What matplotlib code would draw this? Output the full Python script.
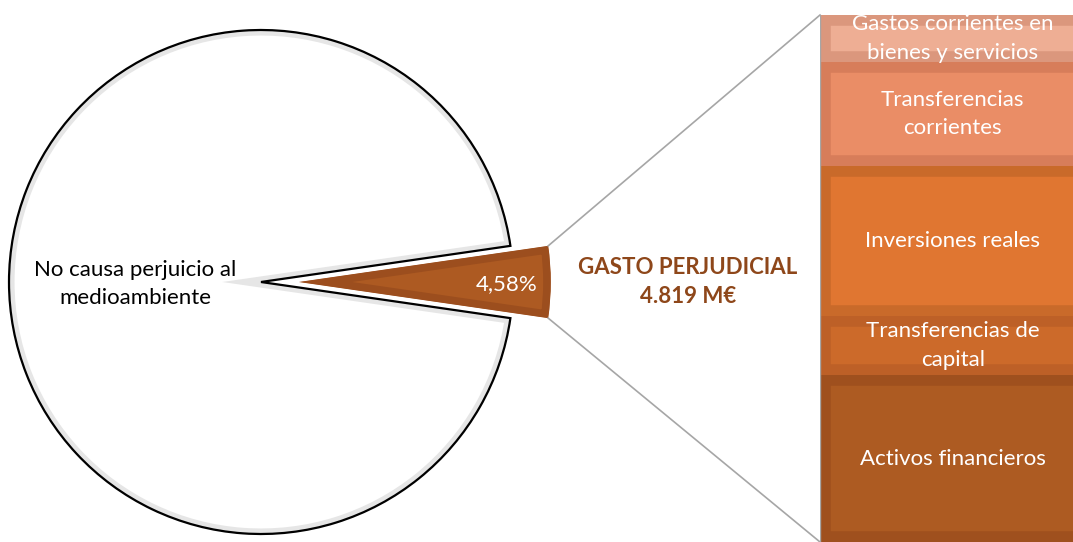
import matplotlib
matplotlib.use("Agg")
import matplotlib.pyplot as plt
from matplotlib.patches import Wedge
import numpy as np

plt.rcParams['font.family'] = ['Lato', 'DejaVu Sans']

# pie: share of spending
pie_labels = ["No causa perjuicio al\nmedioambiente", "GASTO PERJUDICIAL"]
pie_values = [95.42, 4.58]

# breakdown of the harmful spending (M€), top to bottom
bar_labels = ["Gastos corrientes en\nbienes y servicios",
              "Transferencias\ncorrientes",
              "Inversiones reales",
              "Transferencias de\ncapital",
              "Activos financieros"]
bar_values = [430, 951, 1372, 540, 1526]
total_text = "GASTO PERJUDICIAL\n4.819 M€"

bar_face = ["#EEAE94", "#EA8D66", "#E07631", "#CC6A2A", "#AD5B22"]
bar_edge = ["#DB977D", "#D77D5A", "#C96A2A", "#BD6027", "#9F501E"]

W, H = 1073, 542
R = 252
FS = 16
fig = plt.figure(figsize=(W / 100, H / 100), dpi=100)
ax = fig.add_axes([0, 0, 1, 1])

half = 360 * pie_values[1] / 100 / 2
wedges, _ = ax.pie(pie_values, center=(261, H - 282), radius=R,
                   startangle=half, explode=[0, 0.15 * R], frame=True,
                   colors=["white", "#AD5A22"])
# bevel-ish inner bands, clipped so only the inside half shows
wedges[0].set_edgecolor("#E6E6E6")
wedges[0].set_linewidth(8)
wedges[1].set_edgecolor("#9C4E1E")
wedges[1].set_linewidth(11)
for w in wedges:
    w.set_clip_on(True)
    w.set_clip_path(w)
big = wedges[0]
ax.add_patch(Wedge(big.center, big.r, big.theta1, big.theta2,
                   fill=False, edgecolor="black", lw=1.6, joinstyle="miter"))

ax.set_xlim(0, W)
ax.set_ylim(0, H)
ax.set_aspect("equal")
ax.axis("off")

ax.text(135, H - 284, pie_labels[0], ha="center", va="center",
        fontsize=FS, color="black", linespacing=1.5)
sm = wedges[1]
ax.text(507, H - 284, f"{pie_values[1]:.2f}%".replace(".", ","),
        ha="center", va="center", fontsize=FS, color="white")
ax.text(688, H - 282, total_text, ha="center", va="center", fontsize=FS,
        fontweight="bold", color="#8E471A", linespacing=1.5)

# stacked bar on the right
bax = fig.add_axes([820 / W, 0, (W - 820) / W, 527 / H])
order = list(range(len(bar_values)))[::-1]
bottom = 0
for i in order:
    bars = bax.bar(0, bar_values[i], bottom=bottom, width=1.05, align="edge",
                   color=bar_face[i], edgecolor=bar_edge[i], linewidth=15.5)
    for b in bars:
        b.set_clip_path(b)
    bax.bar_label(bars, labels=[bar_labels[i]], label_type="center",
                  color="white", fontsize=FS, linespacing=1.55)
    bottom += bar_values[i]
bax.set_xlim(0, 1)
bax.set_ylim(0, bottom)
bax.axvline(0, color="#A6A6A6", lw=1)
bax.axis("off")

# connector lines from the slice to the bar corners
cx, cy = sm.center
for ang, fy in [(sm.theta2, 1), (sm.theta1, 0)]:
    px = cx + sm.r * np.cos(np.radians(ang))
    py = cy + sm.r * np.sin(np.radians(ang))
    tx, ty = bax.transData.transform((0, fy * bottom))
    tx, ty = ax.transData.inverted().transform((tx, ty))
    ax.plot([px, tx], [py, ty], color="#A6A6A6", lw=1.2, clip_on=False)

fig.savefig("out.png", dpi=100)
